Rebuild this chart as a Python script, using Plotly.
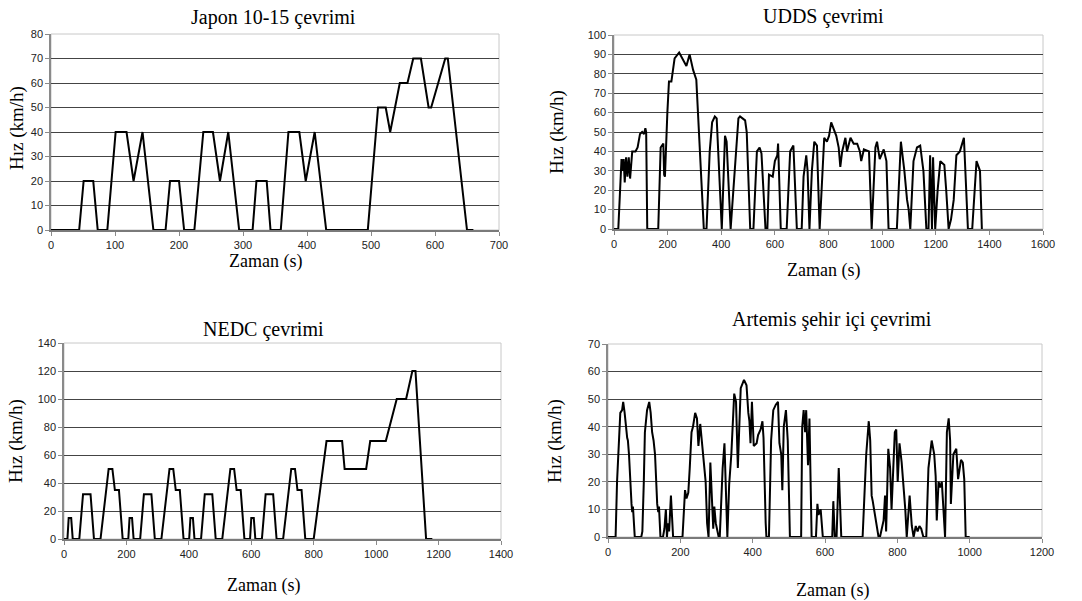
import plotly.graph_objects as go

# --- veriler ---
japon_t = [0, 44, 51, 66, 73, 88, 101, 118, 129, 143, 160, 179, 186, 200, 208, 224,
           238, 253, 264, 277, 294, 315, 321, 337, 343, 359, 371, 388, 398, 412, 430,
           495, 511, 523, 530, 545, 557, 566, 578, 590, 594, 616, 620, 650, 660]
japon_v = [0, 0, 20, 20, 0, 0, 40, 40, 20, 40, 0, 0, 20, 20, 0, 0,
           40, 40, 20, 40, 0, 0, 20, 20, 0, 0, 40, 40, 20, 40, 0,
           0, 50, 50, 40, 60, 60, 70, 70, 50, 50, 70, 70, 0, 0]

udds_t = [0, 16, 28, 32, 36, 40, 45, 50, 55, 60, 68, 80, 88, 97, 105, 112, 117, 120, 124,
          165, 174, 184, 187, 190, 199, 205, 214, 226, 243, 258, 270, 282, 295, 307, 317,
          327, 335, 345, 357, 366, 376, 383, 402, 414, 420, 435, 464, 470, 489, 495, 508,
          520, 533, 543, 550, 565, 572, 578, 592, 600, 609, 612, 614, 622, 644, 657, 669,
          682, 700, 707, 717, 722, 729, 738, 747, 757, 767, 784, 794, 802, 810, 819, 829,
          838, 844, 851, 863, 869, 882, 894, 907, 917, 922, 932, 951, 961, 975, 981, 991,
          1006, 1016, 1024, 1055, 1070, 1083, 1093, 1099, 1105, 1117, 1130, 1142, 1154,
          1165, 1173, 1179, 1186, 1190, 1198, 1207, 1217, 1232, 1239, 1248, 1257, 1267,
          1277, 1290, 1305, 1320, 1336, 1352, 1365, 1372]
udds_v = [0, 0, 36, 30, 36, 24, 37, 27, 37, 26, 40, 40, 42, 49, 50, 49, 52, 50, 0,
          0, 42, 44, 28, 27, 60, 76, 76, 88, 91, 87, 84, 90, 82, 77, 50,
          20, 0, 0, 40, 55, 58, 57, 0, 48, 45, 0, 57, 58, 56, 50, 0,
          0, 40, 42, 39, 0, 0, 28, 27, 35, 38, 44, 35, 0, 0, 40, 43,
          0, 0, 27, 38, 30, 0, 30, 45, 43, 0, 47, 45, 48, 55, 52, 48,
          42, 32, 40, 47, 40, 47, 44, 44, 40, 35, 41, 40, 0, 42, 45, 36,
          41, 35, 0, 0, 45, 30, 15, 10, 0, 35, 42, 43, 30,
          0, 0, 38, 0, 37, 0, 20, 35, 33, 20, 0, 5, 15,
          38, 40, 47, 0, 0, 35, 30, 0]

nedc_t = [0, 11, 15, 23, 28, 49, 61, 85, 96, 117, 143, 155, 163, 176, 188,
          195, 206, 210, 218, 223, 244, 256, 280, 291, 312, 338, 350, 358, 371, 383,
          390, 401, 405, 413, 418, 439, 451, 475, 486, 507, 533, 545, 553, 566, 578,
          585, 596, 600, 608, 613, 634, 646, 670, 681, 702, 728, 740, 748, 761, 773,
          800, 841, 891, 899, 968, 981, 1031, 1066, 1096, 1116, 1126, 1160, 1180]
nedc_v = [0, 0, 15, 15, 0, 0, 32, 32, 0, 0, 50, 50, 35, 35, 0,
          0, 0, 15, 15, 0, 0, 32, 32, 0, 0, 50, 50, 35, 35, 0,
          0, 0, 15, 15, 0, 0, 32, 32, 0, 0, 50, 50, 35, 35, 0,
          0, 0, 15, 15, 0, 0, 32, 32, 0, 0, 50, 50, 35, 35, 0,
          0, 70, 70, 50, 50, 70, 70, 100, 100, 120, 120, 0, 0]

artemis_t = [0, 21, 25, 30, 34, 39, 42, 46, 49, 53, 55, 58, 65, 67, 69, 74, 92, 95, 99,
             102, 108, 114, 118, 122, 126, 130, 136, 139, 141, 145, 152, 156, 160, 163,
             166, 169, 174, 177, 180, 206, 210, 213, 217, 222, 226, 231, 235, 241, 246,
             250, 255, 259, 265, 270, 274, 278, 283, 287, 291, 294, 298, 306, 309, 317,
             322, 330, 335, 341, 344, 349, 354, 359, 363, 367, 376, 383, 388, 391, 394,
             398, 403, 411, 415, 422, 427, 430, 436, 438, 445, 451, 457, 464, 470, 474,
             479, 482, 486, 492, 497, 503, 534, 537, 541, 545, 548, 553, 557, 563, 575,
             579, 582, 588, 594, 620, 623, 627, 632, 638, 645, 704, 714, 721, 725, 729,
             732, 748, 752, 756, 762, 766, 769, 775, 780, 784, 793, 797, 801, 806, 812,
             822, 826, 834, 840, 845, 851, 856, 861, 866, 872, 880, 886, 895, 902, 906,
             909, 914, 918, 923, 930, 932, 937, 942, 946, 948, 955, 963, 968, 976, 981,
             985, 989, 1000]
artemis_v = [0, 0, 20, 37, 45, 46, 49, 45, 40, 36, 35, 30, 12, 9, 11, 0, 0, 2, 20,
             38, 46, 49, 45, 38, 35, 30, 12, 9, 11, 0, 0, 3, 10, 0,
             5, 2, 15, 8, 0, 0, 13, 17, 14, 16, 25, 38, 40, 45, 43,
             33, 41, 35, 28, 20, 5, 0, 27, 15, 3, 11, 5, 0, 0, 25,
             34, 0, 19, 30, 37, 52, 49, 25, 40, 54, 57, 55, 45, 42, 34,
             49, 33, 34, 37, 39, 42, 36, 5, 0, 0, 35, 46, 48, 49, 34,
             30, 17, 40, 46, 35, 0, 0, 40, 46, 38, 46, 26, 43, 0, 0,
             12, 8, 10, 0, 0, 13, 0, 0, 25, 0, 0, 30, 42, 35, 15,
             13, 0, 0, 3, 6, 15, 2, 32, 25, 10, 38, 39, 20, 34, 27,
             10, 0, 15, 4, 0, 4, 2, 4, 3, 0, 0, 25, 35, 30, 22,
             6, 20, 18, 20, 0, 0, 38, 43, 35, 12, 30, 32, 21, 28, 27,
             21, 0, 0]

basliklar = ["Japon 10-15 çevrimi", "UDDS çevrimi", "NEDC çevrimi", "Artemis şehir içi çevrimi"]
x_araliklar = [700, 1600, 1400, 1200]
x_adimlar = [100, 200, 200, 200]
y_araliklar = [80, 100, 140, 70]
y_adimlar = [10, 10, 20, 10]

seriler = [(japon_t, japon_v), (udds_t, udds_v), (nedc_t, nedc_v), (artemis_t, artemis_v)]

# panel yerlesimi (piksel): x0, x1, ust, alt
W, H = 1082, 601
paneller = [(51, 499, 34, 230), (614, 1043, 35, 229), (64, 501, 343, 539), (608, 1042, 344, 537)]
# baslik, x-ekseni basligi, y-ekseni basligi konumlari (piksel)
baslik_pos = [(273, 18), (823, 17), (263, 329), (832, 319)]
xbaslik_pos = [(265, 261), (823, 270), (263, 585), (832, 590)]
ybaslik_pos = [(17, 128), (557, 132), (16, 441), (555, 441)]


def px(x):
    return x / W


def py(y):
    return 1 - y / H


fig = go.Figure()
annotations = []
shapes = []
serif = "Liberation Serif"
tick_font = dict(family="Liberation Sans", size=11, color="#222")

for i, (t, v) in enumerate(seriler):
    n = "" if i == 0 else str(i + 1)
    x0, x1, top, bot = paneller[i]
    fig.add_trace(go.Scatter(x=t, y=v, mode="lines", xaxis="x" + n, yaxis="y" + n,
                             line=dict(color="black", width=2), showlegend=False,
                             hoverinfo="skip"))
    fig.update_layout(**{
        "xaxis" + n: dict(domain=[px(x0), px(x1)], range=[0, x_araliklar[i]],
                          dtick=x_adimlar[i], tick0=0, anchor="y" + n, automargin=False,
                          showgrid=False, zeroline=False, showline=True,
                          linecolor="#7a7a7a", linewidth=1.5, ticks="outside",
                          ticklen=4, tickcolor="#8a8a8a", tickfont=tick_font),
        "yaxis" + n: dict(domain=[py(bot), py(top)], range=[0, y_araliklar[i]],
                          dtick=y_adimlar[i], tick0=0, anchor="x" + n, automargin=False,
                          showgrid=True, gridcolor="#444444", gridwidth=1.2, zeroline=False,
                          showline=True, linecolor="#8a8a8a", linewidth=1.5,
                          ticks="outside", ticklen=4, tickcolor="#8a8a8a", tickfont=tick_font),
    })
    # ust ve sag cerceve (acik gri)
    shapes.append(dict(type="rect", xref="x" + n + " domain", yref="y" + n + " domain",
                       x0=0, x1=1, y0=0, y1=1, line=dict(color="#c8c8c8", width=1),
                       layer="below"))
    bx, by = baslik_pos[i]
    annotations.append(dict(text=basliklar[i], x=px(bx), y=py(by), xref="paper", yref="paper",
                            xanchor="center", yanchor="middle", showarrow=False,
                            font=dict(family=serif, size=20, color="black")))
    ax, ay = xbaslik_pos[i]
    annotations.append(dict(text="Zaman (s)", x=px(ax), y=py(ay), xref="paper", yref="paper",
                            xanchor="center", yanchor="middle", showarrow=False,
                            font=dict(family=serif, size=18, color="black")))
    yx, yy = ybaslik_pos[i]
    annotations.append(dict(text="Hız (km/h)", x=px(yx), y=py(yy), xref="paper", yref="paper",
                            xanchor="center", yanchor="middle", showarrow=False, textangle=-90,
                            font=dict(family=serif, size=19, color="black")))

fig.update_layout(width=W, height=H, margin=dict(l=0, r=0, t=0, b=0, autoexpand=False),
                  paper_bgcolor="white", plot_bgcolor="white", hovermode=False,
                  annotations=annotations, shapes=shapes)

# sayfa govdesinin varsayilan 8px kenar boslugunu kaldir
fig.write_html("out.html", config={"displayModeBar": False},
               post_script="document.body.style.margin='0';")
